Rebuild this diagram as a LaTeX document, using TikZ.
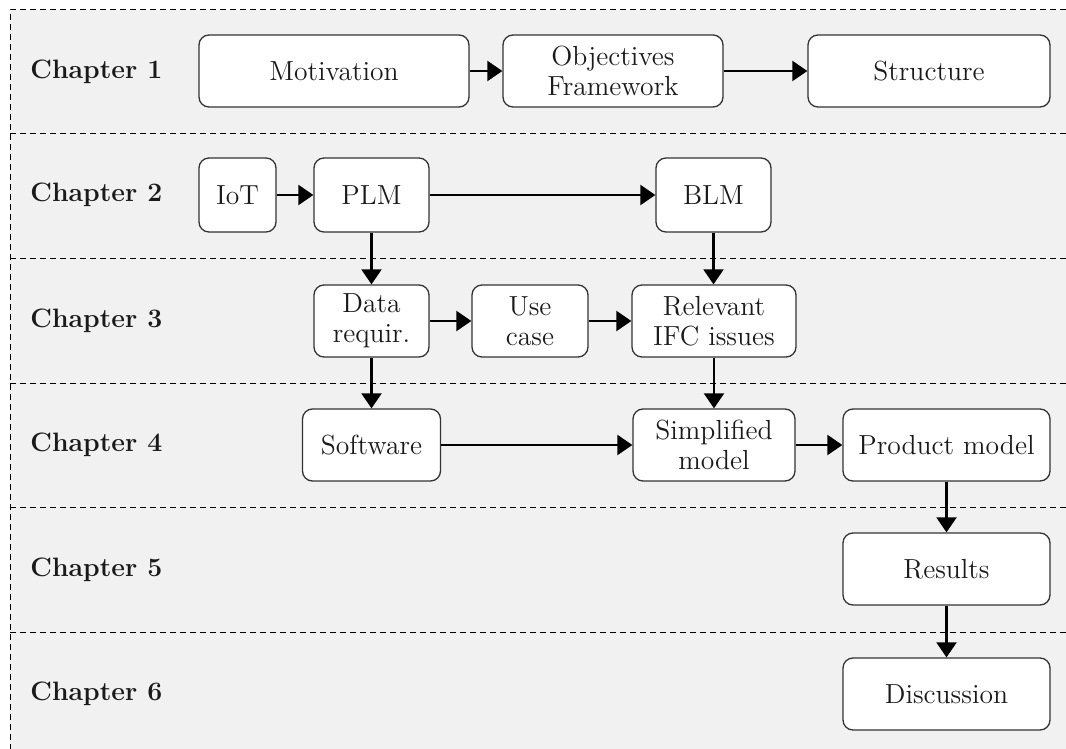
\documentclass[tikz,border=0pt]{standalone}
\usetikzlibrary{arrows.meta}
\definecolor{bandgrey}{HTML}{F1F1F1}
\definecolor{edgegrey}{HTML}{333333}
\definecolor{inkgrey}{HTML}{1A1A1A}
\begin{document}
\begin{tikzpicture}[x=0.5pt,y=-0.5pt,
  every node/.style={font=\fontsize{13.8}{15}\selectfont, text=inkgrey},
  box/.style={draw=edgegrey, line width=0.65pt, fill=white, rounded corners=5pt,
    align=center, inner sep=0pt},
  chap/.style={anchor=west, inner sep=0pt, font=\fontsize{13.3}{15}\selectfont\bfseries},
  sep/.style={black, line width=0.5pt, dash pattern=on 3pt off 2pt},
  flow/.style={line width=1.1pt, -{Triangle[length=7.5pt,width=10pt]}}]
\useasboundingbox (0,0) rectangle (1066,749);
% background and frame
\fill[bandgrey] (10,10) rectangle (1080,760);
\draw[sep] (10,760) -- (10,10) -- (1080,10);
\foreach \yy in {134,258,383,507,632}
  \draw[sep] (10,\yy) -- (1080,\yy);
% chapter labels
\node[chap] (c1) at (30,72) {Chapter 1};
\node[chap] (c2) at (30,195) {Chapter 2};
\node[chap] (c3) at (30,321) {Chapter 3};
\node[chap] (c4) at (30,445) {Chapter 4};
\node[chap] (c5) at (30,570) {Chapter 5};
\node[chap] (c6) at (30,694) {Chapter 6};
% chapter 1
\node[box, minimum width=135pt, minimum height=36pt] (mot) at (334,71) {Motivation};
\node[box, minimum width=110pt, minimum height=36pt] (obj) at (613,71) {Objectives\\Framework};
\node[box, minimum width=121pt, minimum height=36pt] (str) at (929,71) {Structure};
% chapter 2
\node[box, minimum width=38.5pt, minimum height=37pt] (iot) at (237.5,195) {IoT};
\node[box, minimum width=57.5pt, minimum height=37pt] (plm) at (371.5,195) {PLM};
\node[box, minimum width=57.5pt, minimum height=37pt] (blm) at (713.5,195) {BLM};
% chapter 3
\node[box, minimum width=57.5pt, minimum height=36pt] (dat) at (371.5,321) {Data\\requir.};
\node[box, minimum width=58pt, minimum height=36pt] (use) at (530,321) {Use\\case};
\node[box, minimum width=82pt, minimum height=36pt] (rel) at (714,321) {Relevant\\IFC issues};
% chapter 4
\node[box, minimum width=69pt, minimum height=36pt] (sof) at (371.5,445) {Software};
\node[box, minimum width=81pt, minimum height=36pt] (sim) at (714,445) {Simplified\\model};
\node[box, minimum width=103.5pt, minimum height=36pt] (pro) at (946.5,445) {Product model};
% chapters 5 and 6
\node[box, minimum width=103.5pt, minimum height=36pt] (res) at (946.5,569) {Results};
\node[box, minimum width=103.5pt, minimum height=36pt] (dis) at (946.5,694) {Discussion};
% connectors
\draw[flow] (mot) -- (obj);
\draw[flow] (obj) -- (str);
\draw[flow] (iot) -- (plm);
\draw[flow] (plm) -- (blm);
\draw[flow] (plm) -- (dat);
\draw[flow] (blm.south) -- (blm.south |- rel.north);
\draw[flow] (dat) -- (use);
\draw[flow] (use) -- (rel);
\draw[flow] (dat) -- (sof);
\draw[flow] (rel) -- (sim);
\draw[flow] (sof) -- (sim);
\draw[flow] (sim) -- (pro);
\draw[flow] (pro) -- (res);
\draw[flow] (res) -- (dis);
\end{tikzpicture}
\end{document}
